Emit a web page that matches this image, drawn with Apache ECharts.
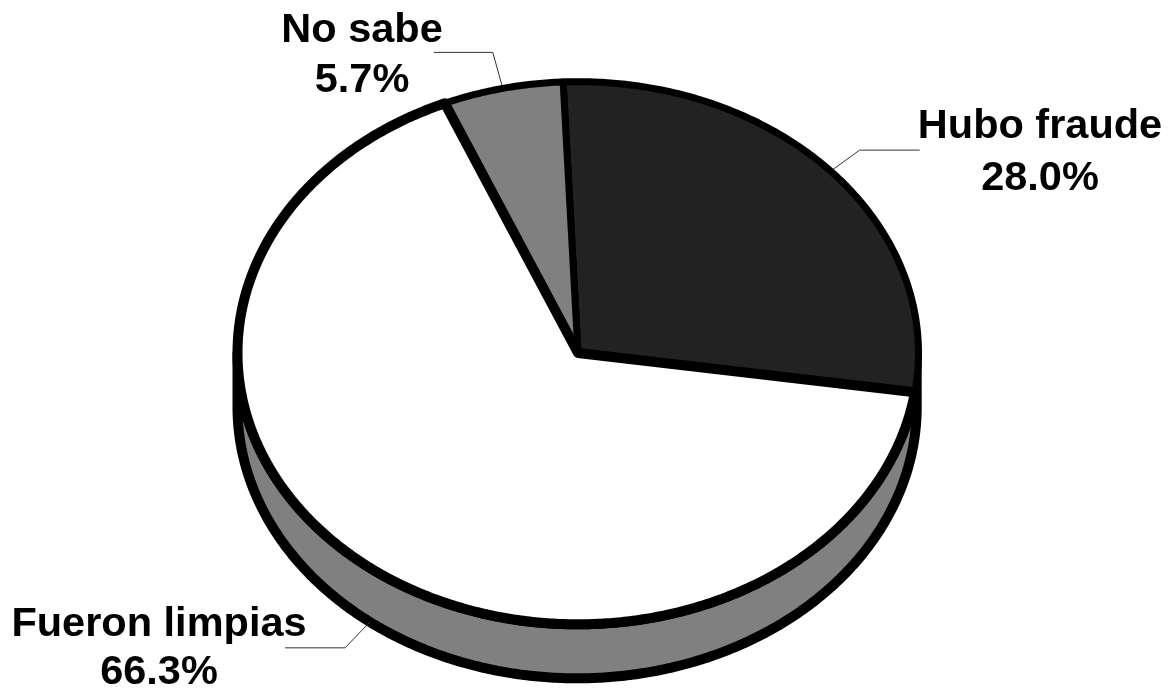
<!DOCTYPE html>
<html><head><meta charset="utf-8">
<style>html,body{margin:0;padding:0;background:#fff}#c{width:1175px;height:691px}</style>
<script src="https://cdn.jsdelivr.net/npm/echarts@6/dist/echarts.min.js"></script>
</head><body><div id="c"></div>
<script>
const categories = ['Hubo fraude', 'No sabe', 'Fueron limpias'];
const shares = [28.0, 5.7, 66.3];
const sliceColors = ['#222222', '#808080', '#ffffff'];
const sliceStrokes = [7, 7, 10];
const labelCentres = [[1040, 153], [362, 56], [159, 649]];
const labelLineHeights = [52, 50, 48];
const leaderElbows = [[[29, -21], [89, -21]], [[-10, -36], [-69, -36]], [[-25, 26], [-85, 26]]];

const CX = 578, CY = 353, RX = 340.5, RY = 271.3, DEPTH = 54;
const WALL_CX = 577.1, WALL_RX = 339.6;
const START_DEG = -2.5;   // clockwise from 12 o'clock
const WALL = '#808080';

function pt(deg, dy, cx, rx) {
  const a = deg * Math.PI / 180;
  return [(cx || CX) + (rx || RX) * Math.sin(a), CY - RY * Math.cos(a) + (dy || 0)];
}
function arc(from, to, dy, cx, rx) {
  const n = Math.max(2, Math.ceil(Math.abs(to - from) * 2)), out = [];
  for (let i = 0; i <= n; i++) out.push(pt(from + (to - from) * i / n, dy, cx, rx));
  return out;
}
const total = shares.reduce((a, b) => a + b, 0);
let acc = START_DEG;
// Order round the circle: Hubo fraude clockwise, Fueron limpias next, No sabe last.
const order = [0, 2, 1];
const span = {};
order.forEach(i => { const s = shares[i] / total * 360; span[i] = [acc, acc + s]; acc += s; });

function renderItem(params, api) {
  const i = params.dataIndex;
  const [a0, a1] = span[i];
  const children = [];
  const mid = (a0 + a1) / 2;
  const onWall = Math.cos(mid * Math.PI / 180) < -0.3;
  const anchor = pt(mid, onWall ? DEPTH : 0);
  const pts = [anchor].concat(leaderElbows[i].map(o => [anchor[0] + o[0], anchor[1] + o[1]]));
  children.push({ type: 'polyline', shape: { points: pts }, style: { stroke: '#333', lineWidth: 1, fill: null }, z2: 1 });
  children.push({
    type: 'polygon',
    shape: { points: [[CX, CY]].concat(arc(a0, a1)) },
    style: { fill: sliceColors[i], stroke: '#000', lineWidth: sliceStrokes[i], lineJoin: 'round' },
    z2: i === 2 ? 4 : 3
  });
  children.push({
    type: 'text',
    style: {
      text: categories[i] + '\n' + api.value(0).toFixed(1) + '%',
      x: labelCentres[i][0], y: labelCentres[i][1],
      align: 'center', verticalAlign: 'middle',
      font: 'bold 41.5px "Liberation Sans", Arial, sans-serif',
      lineHeight: labelLineHeights[i], fill: '#000'
    },
    z2: 5
  });
  return { type: 'group', children };
}
function renderWall() {
  const top = arc(90, 270, 0, WALL_CX, WALL_RX);
  const bottom = arc(270, 90, DEPTH, WALL_CX, WALL_RX);
  return {
    type: 'polygon',
    shape: { points: top.concat(bottom) },
    style: { fill: WALL, stroke: '#000', lineWidth: 10, lineJoin: 'round' },
    z2: 2
  };
}
const chart = echarts.init(document.getElementById('c'), null, { renderer: 'canvas' });
chart.setOption({
  animation: false,
  backgroundColor: '#fff',
  series: [
    { type: 'custom', coordinateSystem: 'none', renderItem: renderWall, data: [[0]], z: 1, silent: true },
    { type: 'custom', coordinateSystem: 'none', renderItem, z: 2, silent: true,
      data: shares.map(v => [v]) }
  ]
});
</script></body></html>
